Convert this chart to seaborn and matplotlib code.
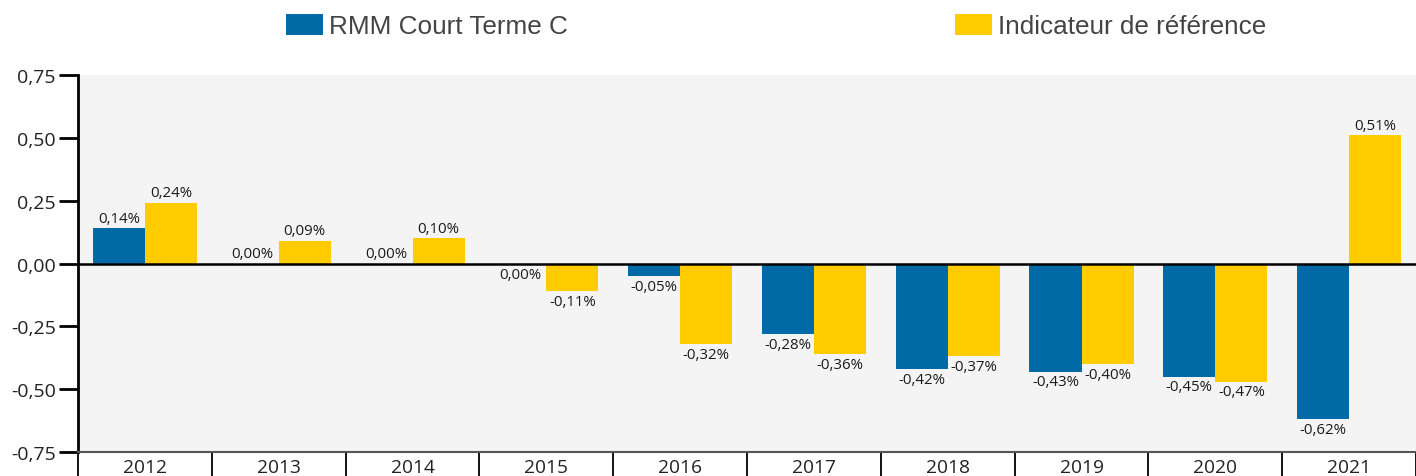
import matplotlib
matplotlib.use("Agg")
import matplotlib.pyplot as plt
from matplotlib.patches import Patch
import seaborn as sns
import pandas as pd

years = ["2012", "2013", "2014", "2015", "2016", "2017", "2018", "2019", "2020", "2021"]
rmm = [0.14, 0.00, 0.00, -0.001, -0.05, -0.28, -0.42, -0.43, -0.45, -0.62]
ref = [0.24, 0.09, 0.10, -0.11, -0.32, -0.36, -0.37, -0.40, -0.47, 0.51]
series = ["RMM Court Terme C", "Indicateur de référence"]
colors = ["#006aa6", "#ffcc00"]
yticks = [-0.75, -0.50, -0.25, 0.00, 0.25, 0.50, 0.75]

df = pd.DataFrame({
    "year": years * 2,
    "value": rmm + ref,
    "series": [series[0]] * len(years) + [series[1]] * len(years),
})

sns.set_style("white")
plt.rcParams["font.family"] = ["Open Sans", "DejaVu Sans"]

fig = plt.figure(figsize=(14.16, 4.77), dpi=100)
ax = fig.add_axes([78 / 1416, 1 - 453 / 477, 1 - 78 / 1416, (453 - 76) / 477])
ax.set_facecolor("#f4f4f4")

sns.barplot(data=df, x="year", y="value", hue="series", palette=colors,
            width=0.78, gap=0, legend=False, ax=ax, edgecolor="none", saturation=1)

def fmt(v):
    s = f"{v:.2f}".replace(".", ",")
    if s == "-0,00":
        s = "0,00"
    return s + "%"

for cont, vals in zip(ax.containers, [rmm, ref]):
    ax.bar_label(cont, labels=[fmt(v) for v in vals], padding=2, fontsize=10.8, color="#1a1a1a")

ax.axhline(0, color="black", lw=1.8, zorder=3)
ax.set_ylim(-0.75, 0.75)
ax.set_xlim(-0.5, len(years) - 0.5)
ax.set_yticks(yticks)
ax.set_yticklabels([f"{t:.2f}".replace(".", ",") for t in yticks], fontsize=14, color="#222222")
ax.tick_params(axis="y", length=14, width=2, color="black", pad=2, left=True)

ax.set_xticks([i + 0.5 for i in range(-1, len(years))])
ax.set_xticklabels([])
ax.set_xticks(range(len(years)), minor=True)
ax.set_xticklabels(years, minor=True, fontsize=13.8, color="#222222")
ax.tick_params(axis="x", which="major", length=18, width=1.3, color="black", bottom=True)
ax.tick_params(axis="x", which="minor", length=0, pad=4)
ax.set_xlabel("")
ax.set_ylabel("")

for side in ["top", "right"]:
    ax.spines[side].set_visible(False)
ax.spines["left"].set_color("black")
ax.spines["left"].set_linewidth(2)
ax.spines["bottom"].set_color("#555555")
ax.spines["bottom"].set_linewidth(1.5)

for name, col, xpos in zip(series, colors, [286 / 1416, 955 / 1416]):
    fig.legend(handles=[Patch(facecolor=col, edgecolor="none", label=name)],
               loc="center left", bbox_to_anchor=(xpos, 1 - 27 / 477), frameon=False,
               prop={"family": "Liberation Sans", "size": 18.8},
               labelcolor="#444444", handlelength=1.4, handleheight=0.85,
               handletextpad=0.25, borderpad=0, borderaxespad=0)

fig.savefig("out.png", dpi=100)
